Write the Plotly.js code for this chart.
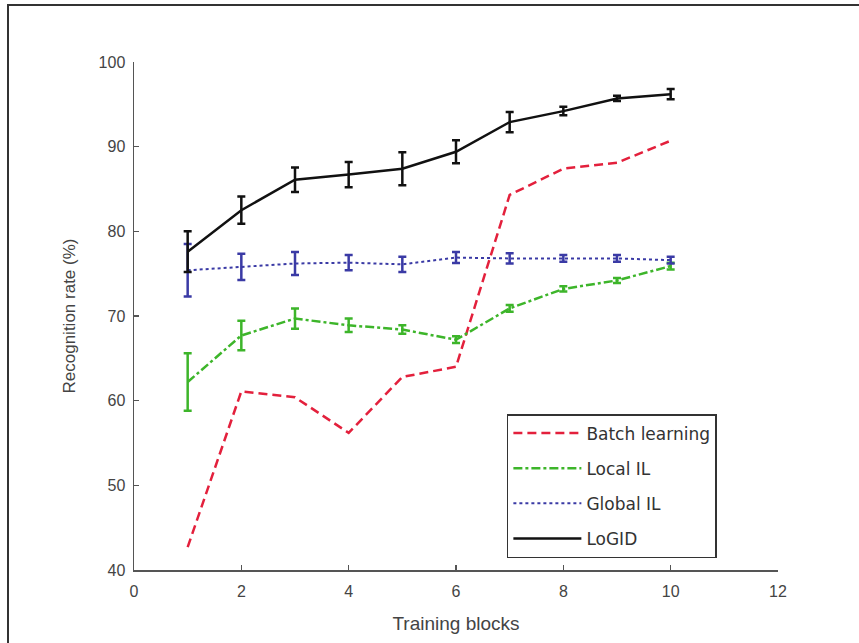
<!DOCTYPE html>
<html>
<head>
<meta charset="utf-8">
<script src="https://cdn.plot.ly/plotly-3.0.1.min.js"></script>
<style>
html,body{margin:0;padding:0;background:#fff;}
#chart{position:absolute;left:0;top:0;width:859px;height:643px;}
#frame{position:absolute;left:7px;top:4px;width:852px;height:639px;border-left:2px solid #333;border-top:2px solid #333;pointer-events:none;}
</style>
</head>
<body>
<div id="chart"></div>
<div id="frame"></div>
<script>
const blocks = [1, 2, 3, 4, 5, 6, 7, 8, 9, 10];
const batchLearning = [42.7, 61.1, 60.4, 56.2, 62.8, 64.0, 84.3, 87.4, 88.1, 90.7];
const localIL = [62.2, 67.7, 69.7, 68.9, 68.4, 67.2, 70.9, 73.2, 74.2, 75.9];
const localILErr = [3.4, 1.75, 1.2, 0.8, 0.5, 0.4, 0.4, 0.3, 0.3, 0.4];
const globalIL = [75.4, 75.8, 76.2, 76.3, 76.1, 76.9, 76.8, 76.8, 76.8, 76.6];
const globalILErr = [3.1, 1.55, 1.35, 0.9, 0.9, 0.65, 0.6, 0.4, 0.4, 0.4];
const logid = [77.6, 82.5, 86.1, 86.7, 87.4, 89.4, 92.9, 94.2, 95.7, 96.2];
const logidErr = [2.4, 1.6, 1.45, 1.5, 1.95, 1.35, 1.2, 0.5, 0.3, 0.6];
const xTicks = [0, 2, 4, 6, 8, 10, 12];
const yTicks = [40, 50, 60, 70, 80, 90, 100];

const traces = [
  {x: blocks, y: batchLearning, name: 'Batch learning', mode: 'lines', legendgroup: 'a',
   line: {color: '#e3203c', width: 2.5, dash: '9px,5px'}},
  {x: blocks, y: localIL, name: 'Local IL', mode: 'lines', legendgroup: 'b',
   line: {color: '#3db52a', width: 2.5, dash: 'dashdot'},
   error_y: {type: 'data', array: localILErr, visible: true, color: '#3db52a', thickness: 2.5, width: 4}},
  {x: blocks, y: globalIL, name: 'Global IL', mode: 'lines', legendgroup: 'c',
   line: {color: '#3a3aa5', width: 2, dash: 'dot'},
   error_y: {type: 'data', array: globalILErr, visible: true, color: '#3a3aa5', thickness: 2.5, width: 4}},
  {x: blocks, y: logid, name: 'LoGID', mode: 'lines', legendgroup: 'd',
   line: {color: '#111111', width: 2.5},
   error_y: {type: 'data', array: logidErr, visible: true, color: '#111111', thickness: 2.5, width: 4}}
];

const fam = 'Liberation Sans, Arial, sans-serif';
const axisFont = {family: fam, size: 16, color: '#444'};
const layout = {
  width: 859, height: 643,
  margin: {l: 134, r: 81, t: 62, b: 73},
  paper_bgcolor: '#fff', plot_bgcolor: '#fff',
  showlegend: true,
  xaxis: {
    range: [0, 12], tickvals: xTicks, ticktext: xTicks.map(String),
    showgrid: false, zeroline: false, showline: true, linecolor: '#555', linewidth: 1.5,
    ticks: 'inside', ticklen: 5, tickcolor: '#555', tickwidth: 1.5,
    tickfont: axisFont, ticklabelstandoff: 6,
    title: {text: 'Training blocks', font: {family: fam, size: 19, color: '#444'}, standoff: 18}
  },
  yaxis: {
    range: [40, 100], tickvals: yTicks, ticktext: yTicks.map(String),
    showgrid: false, zeroline: false, showline: true, linecolor: '#555', linewidth: 1.5,
    ticks: 'inside', ticklen: 5, tickcolor: '#555', tickwidth: 1.5,
    tickfont: axisFont, ticklabelstandoff: 4,
    title: {text: 'Recognition rate (%)', font: {family: fam, size: 17, color: '#444'}, standoff: 18}
  },
  legend: {
    x: 0.579, y: 0.307, xanchor: 'left', yanchor: 'top',
    bgcolor: '#fff', bordercolor: '#333', borderwidth: 1.5,
    font: {family: 'DejaVu Sans, sans-serif', size: 17, color: '#333'},
    tracegroupgap: 10, itemwidth: 68
  }
};

Plotly.newPlot('chart', traces, layout, {displayModeBar: false, staticPlot: true});
</script>
</body>
</html>
